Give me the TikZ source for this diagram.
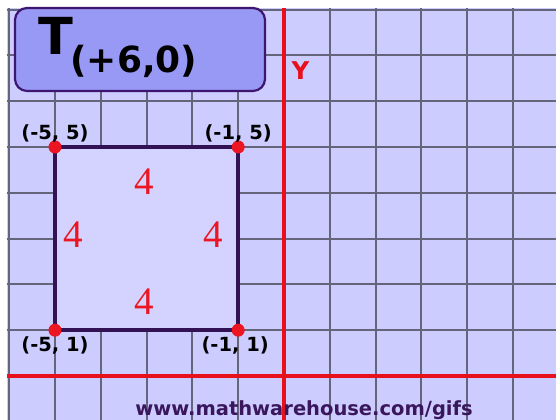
\documentclass[tikz,border=0pt]{standalone}
\usepackage{fontspec}
\usepackage{tikz}
\usetikzlibrary{positioning}
\newfontfamily\dvsans{DejaVu Sans}
\newfontfamily\numserif{Liberation Serif}

\begin{document}
\begin{tikzpicture}[x=45.8pt,y=45.8pt,
    gridline/.style={line width=2.1pt, color=gridc},
    axisline/.style={line width=3.4pt, color=axisc},
    ptlabel/.style={inner sep=0pt, font=\dvsans\bfseries\fontsize{19.5}{20}\selectfont, text=black},
    sidelen/.style={inner sep=0pt, font=\numserif\fontsize{39}{39}\selectfont, text=redc},
    corner/.style={circle, fill=redc, inner sep=0pt, minimum size=13pt}]
    \definecolor{bgc}{RGB}{204,204,255}
    \definecolor{sqc}{RGB}{212,211,255}
    \definecolor{gridc}{RGB}{100,100,122}
    \definecolor{axisc}{RGB}{232,16,28}
    \definecolor{redc}{RGB}{235,22,34}
    \definecolor{edgec}{RGB}{50,18,85}
    \definecolor{titlec}{RGB}{152,152,245}
    \definecolor{titleb}{RGB}{62,22,112}
    \definecolor{webc}{RGB}{58,22,92}

    \useasboundingbox (-6.2009,-0.9607) rectangle (5.9389,8.2096);
    \fill[white] (-6.2009,-0.9607) rectangle (5.9389,8.2096);
    \fill[bgc] (-6.05,-0.9607) rectangle (5.9389,8.035);

    % grid
    \foreach \gx in {-6,...,5}
      \draw[gridline] (\gx,-0.9607) -- (\gx,8.035);
    \foreach \gy in {1,...,8}
      \draw[gridline] (-6.05,\gy) -- (5.9389,\gy);

    % axes
    \draw[axisline] (-6.05,0) -- (5.9389,0);
    \draw[axisline] (0,-0.9607) -- (0,8.035);
    \node[inner sep=0pt, text=axisc, font=\dvsans\bfseries\fontsize{24.5}{25}\selectfont] (ylab) at (0.36,6.66) {Y};

    % the square
    \coordinate (A) at (-5,5);
    \coordinate (B) at (-1,5);
    \coordinate (C) at (-1,1);
    \coordinate (D) at (-5,1);
    \filldraw[fill=sqc, draw=edgec, line width=3.4pt] (A) -- (B) -- (C) -- (D) -- cycle;

    \node[sidelen] (stop) at (-3.057,4.24) {4};
    \node[sidelen] (sleft) at (-4.6,3.08) {4};
    \node[sidelen] (sright) at (-1.55,3.08) {4};
    \node[sidelen] (sbot) at (-3.057,1.62) {4};

    \node[corner] (dA) at (A) {};
    \node[corner] (dB) at (B) {};
    \node[corner] (dC) at (C) {};
    \node[corner] (dD) at (D) {};

    \node[ptlabel, above=5pt of A] (lA) {(-5, 5)};
    \node[ptlabel, above=5pt of B] (lB) {(-1, 5)};
    \node[ptlabel, below=6pt of D] (lD) {(-5, 1)};
    \node[ptlabel, below=6pt of C, xshift=-3pt] (lC) {(-1, 1)};

    % title
    \draw[fill=titlec, draw=titleb, line width=2.2pt, rounded corners=12pt]
      (-5.873,6.223) rectangle (-0.415,8.035);
    \node[inner sep=0pt, anchor=base west, font=\dvsans\bfseries] (title) at (-5.36,7.009)
      {\fontsize{51}{51}\selectfont T\kern-3pt\raisebox{-18pt}{\fontsize{36}{36}\selectfont(+6,0)}};

    \node[inner sep=0pt, anchor=base, text=webc, font=\dvsans\bfseries\fontsize{19.5}{20}\selectfont] (web) at (0.437,-0.873)
      {www.mathwarehouse.com/gifs};
  \end{tikzpicture}
\end{document}
